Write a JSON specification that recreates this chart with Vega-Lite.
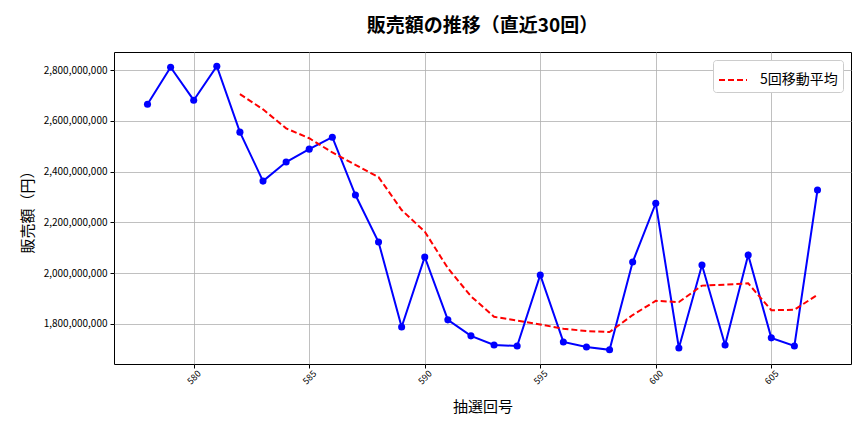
{
  "$schema": "https://vega.github.io/schema/vega-lite/v6.json",
  "autosize": "none",
  "width": 737,
  "height": 312,
  "padding": {"left": 114, "top": 52, "right": 13, "bottom": 68},
  "background": "white",
  "config": {
    "font": "Noto Sans CJK JP",
    "view": {"stroke": "black", "strokeWidth": 1}
  },
  "title": {
    "text": "販売額の推移（直近30回）",
    "fontSize": 19,
    "fontWeight": "bold",
    "font": "Noto Sans CJK JP",
    "color": "black",
    "anchor": "middle",
    "offset": 16
  },
  "data": {
    "values": [
      {"draw": 578, "sales": 2666000000, "ma": null},
      {"draw": 579, "sales": 2812000000, "ma": null},
      {"draw": 580, "sales": 2682000000, "ma": null},
      {"draw": 581, "sales": 2816000000, "ma": null},
      {"draw": 582, "sales": 2556000000, "ma": 2706000000},
      {"draw": 583, "sales": 2363000000, "ma": 2646000000},
      {"draw": 584, "sales": 2438000000, "ma": 2571000000},
      {"draw": 585, "sales": 2489000000, "ma": 2532000000},
      {"draw": 586, "sales": 2536000000, "ma": 2476000000},
      {"draw": 587, "sales": 2308000000, "ma": 2427000000},
      {"draw": 588, "sales": 2123000000, "ma": 2379000000},
      {"draw": 589, "sales": 1788000000, "ma": 2249000000},
      {"draw": 590, "sales": 2064000000, "ma": 2164000000},
      {"draw": 591, "sales": 1816000000, "ma": 2020000000},
      {"draw": 592, "sales": 1753000000, "ma": 1909000000},
      {"draw": 593, "sales": 1717000000, "ma": 1828000000},
      {"draw": 594, "sales": 1713000000, "ma": 1813000000},
      {"draw": 595, "sales": 1993000000, "ma": 1798000000},
      {"draw": 596, "sales": 1729000000, "ma": 1781000000},
      {"draw": 597, "sales": 1709000000, "ma": 1772000000},
      {"draw": 598, "sales": 1698000000, "ma": 1768000000},
      {"draw": 599, "sales": 2044000000, "ma": 1835000000},
      {"draw": 600, "sales": 2276000000, "ma": 1891000000},
      {"draw": 601, "sales": 1705000000, "ma": 1886000000},
      {"draw": 602, "sales": 2032000000, "ma": 1951000000},
      {"draw": 603, "sales": 1717000000, "ma": 1955000000},
      {"draw": 604, "sales": 2072000000, "ma": 1960000000},
      {"draw": 605, "sales": 1745000000, "ma": 1854000000},
      {"draw": 606, "sales": 1713000000, "ma": 1856000000},
      {"draw": 607, "sales": 2328000000, "ma": 1915000000}
    ]
  },
  "encoding": {
    "x": {
      "field": "draw",
      "type": "quantitative",
      "scale": {"domain": [576.55, 608.45], "nice": false, "zero": false},
      "axis": {
        "title": "抽選回号",
        "titleFontSize": 15,
        "titleFontWeight": "normal",
        "titleColor": "black",
        "titlePadding": 14,
        "values": [580, 585, 590, 595, 600, 605],
        "format": "d",
        "labelAngle": -45,
        "labelAlign": "center",
        "labelBaseline": "middle",
        "labelPadding": 9,
        "labelFontSize": 9,
        "labelColor": "black",
        "tickColor": "black",
        "tickSize": 4,
        "domain": false,
        "grid": true,
        "gridColor": "#b0b0b0",
        "gridWidth": 0.8
      }
    },
    "y": {
      "type": "quantitative",
      "scale": {"domain": [1642000000, 2872000000], "nice": false, "zero": false},
      "axis": {
        "title": "販売額（円）",
        "titleFontSize": 15,
        "titleFontWeight": "normal",
        "titleColor": "black",
        "titlePadding": 8,
        "values": [1800000000, 2000000000, 2200000000, 2400000000, 2600000000, 2800000000],
        "format": ",d",
        "labelFontSize": 10,
        "labelColor": "black",
        "labelPadding": 3,
        "tickColor": "black",
        "tickSize": 4,
        "domain": false,
        "grid": true,
        "gridColor": "#b0b0b0",
        "gridWidth": 0.8
      }
    }
  },
  "layer": [
    {
      "mark": {"type": "line", "color": "#0000ff", "strokeWidth": 2, "point": {"filled": true, "size": 50, "color": "#0000ff"}},
      "encoding": {"y": {"field": "sales", "type": "quantitative"}}
    },
    {
      "transform": [{"filter": "datum.ma != null"}],
      "mark": {"type": "line", "strokeWidth": 2, "strokeDash": [6, 3]},
      "encoding": {
        "y": {"field": "ma", "type": "quantitative"},
        "color": {
          "datum": "5回移動平均",
          "scale": {"range": ["#ff0000"]},
          "legend": {
            "title": null,
            "orient": "top-right",
            "offset": 8,
            "symbolType": "stroke",
            "symbolStrokeWidth": 2,
            "symbolDash": [6, 3],
            "symbolSize": 784,
            "labelFontSize": 14,
            "labelOffset": 12,
            "labelColor": "black",
            "strokeColor": "#cccccc",
            "fillColor": "white",
            "cornerRadius": 3,
            "padding": 5
          }
        }
      }
    }
  ]
}
